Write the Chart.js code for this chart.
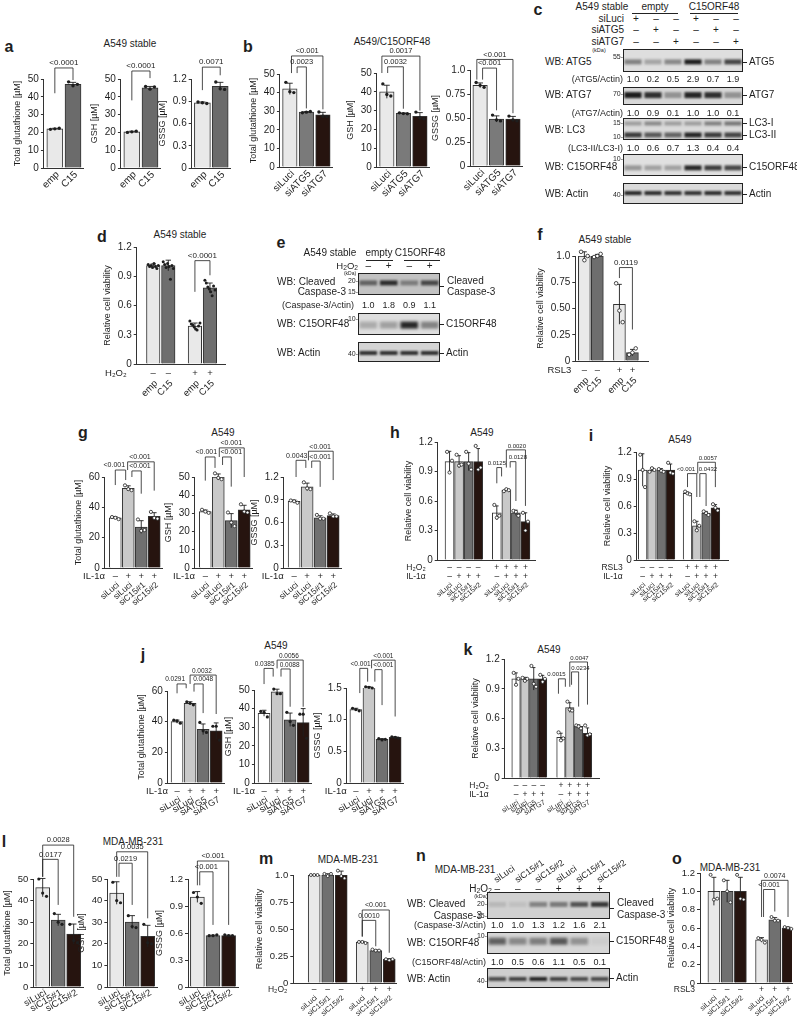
<!DOCTYPE html>
<html>
<head>
<meta charset="utf-8">
<title>C15ORF48 figure</title>
<script src="https://cdn.jsdelivr.net/npm/chart.js@4.4.1/dist/chart.umd.min.js"></script>
<style>
  html, body { margin: 0; padding: 0; }
  body { width: 797px; height: 1019px; position: relative; overflow: hidden; background: #fff;
         font-family: "Liberation Sans", Arial, Helvetica, sans-serif; color: #1e1e1e; }
  canvas { position: absolute; }
  .t { position: absolute; white-space: nowrap; line-height: 1; }
  .t sub { font-size: 0.7em; vertical-align: -0.15em; line-height: 0; }
  .ln { position: absolute; background: #222; height: 1px; }
</style>
</head>
<body>
<script>
// ---------- data ----------
// a: A549 stable (empty vector vs C15ORF48)
const aCats = ['emp', 'C15'];
const aTotal = [22.0, 47.0];
const aTotalPts = [[21.7, 22.0, 22.3], [48.4, 46.2, 47.0]];
const aGSH = [20.3, 45.0];
const aGSHPts = [[20.0, 20.3, 20.7], [45.8, 44.3, 45.6]];
const aGSSG = [0.88, 1.10];
const aGSSGPts = [[0.89, 0.88, 0.87], [1.16, 1.07, 1.06]];
const aTotalSig = [[0, 1, '<0.0001', 56.2, 42, 49.4]];
const aGSHSig = [[0, 1, '<0.0001', 54.5, 38, 50.5]];
const aGSSGSig = [[0, 1, '0.0071', 1.36, 1.05, 1.25]];

// b: A549/C15ORF48 with siRNA
const bCats = ['siLuci', 'siATG5', 'siATG7'];
const bTotal = [42.0, 29.5, 28.0];
const bTotalPts = [[45.5, 40.5, 40.0], [29.2, 29.5, 29.8], [29.6, 27.3, 27.1]];
const bGSH = [40.0, 28.5, 27.0];
const bGSHPts = [[44.2, 38.6, 37.8], [28.8, 28.4, 28.3], [29.2, 26.2, 25.6]];
const bGSSG = [0.84, 0.49, 0.49];
const bGSSGPts = [[0.87, 0.84, 0.82], [0.53, 0.48, 0.47], [0.52, 0.48, 0.47]];
const bTotalSig = [[0.1, 2, '<0.001', 59.7, 50.5, 31], [0.44, 1, '0.0023', 53.8, 50.5, 31.5]];
const bGSHSig = [[-0.3, 2, '0.0017', 59, 50, 30], [0.05, 1, '0.0032', 53.3, 50, 31]];
const bGSSGSig = [[-0.2, 2, '<0.001', 1.11, 0.9, 0.55], [0.15, 1, '<0.001', 1.02, 0.9, 0.58]];

// c: western blot
const cSiLuci = ['+', '–', '–', '+', '–', '–'];
const cSiATG5 = ['–', '+', '–', '–', '+', '–'];
const cSiATG7 = ['–', '–', '+', '–', '–', '+'];
const cATG5 = [0.45, 0.28, 0.42, 0.95, 0.45, 0.75];
const cATG5Ratio = ['1.0', '0.2', '0.5', '2.9', '0.7', '1.9'];
const cATG7 = [0.95, 0.85, 0.35, 0.9, 0.85, 0.35];
const cATG7Ratio = ['1.0', '0.9', '0.1', '1.0', '1.0', '0.1'];
const cLC3I = [0.3, 0.4, 0.3, 0.3, 0.45, 0.5];
const cLC3II = [0.8, 0.65, 0.6, 0.9, 0.8, 0.75];
const cLC3Ratio = ['1.0', '0.6', '0.7', '1.3', '0.4', '0.4'];
const cC15 = [0.35, 0.3, 0.3, 0.9, 0.8, 0.75];
const cActin = [0.9, 0.88, 0.85, 0.85, 0.88, 0.85];

// d: viability with H2O2
const dCats = ['emp', 'C15', 'emp', 'C15'];
const dH2O2 = ['–', '–', '+', '+'];
const dViab = [1.01, 1.01, 0.39, 0.78];
const dViabPts = [
  [1.02, 1.00, 1.01, 0.99, 1.03, 1.00, 0.98, 1.01],
  [1.05, 1.02, 0.99, 1.03, 1.00, 0.87, 1.01, 0.98],
  [0.44, 0.41, 0.40, 0.38, 0.36, 0.35, 0.39, 0.42],
  [0.86, 0.83, 0.79, 0.77, 0.74, 0.70, 0.80, 0.76]];
const dSig = [[2, 3, '<0.0001', 1.06, 0.74, 0.91]];

// e: western blot
const eH2O2 = ['–', '+', '–', '+'];
const eCasp = [0.55, 0.85, 0.4, 0.7];
const eCaspRatio = ['1.0', '1.8', '0.9', '1.1'];
const eC15 = [0.25, 0.3, 0.9, 0.45];
const eActin = [0.85, 0.85, 0.85, 0.85];

// f: viability with RSL3
const fCats = ['emp', 'C15', 'emp', 'C15'];
const fRSL3 = ['–', '–', '+', '+'];
const fViab = [1.00, 1.00, 0.54, 0.08];
const fViabPts = [[1.04, 0.96, 1.00], [0.99, 1.00, 1.02], [0.74, 0.48, 0.37], [0.06, 0.08, 0.12]];
const fSig = [[2, 3, '0.0119', 0.89, 0.79, 0.30]];

// g: A549 IL-1a, siC15
const gCats = ['siLuci', 'siLuci', 'siC15#1', 'siC15#2'];
const gIL1 = ['–', '+', '+', '+'];
const gTotal = [33.0, 52.5, 27.0, 34.0];
const gTotalPts = [[33.6, 33.1, 32.2], [54.5, 52.0, 51.3], [32.0, 24.5, 25.0], [37.0, 33.0, 32.5]];
const gGSH = [31.0, 50.0, 26.0, 32.0];
const gGSHPts = [[32.0, 31.0, 30.3], [52.0, 49.5, 48.8], [30.5, 25.0, 23.0], [35.0, 31.0, 30.5]];
const gGSSG = [0.88, 1.07, 0.66, 0.69];
const gGSSGPts = [[0.89, 0.88, 0.86], [1.13, 1.05, 1.04], [0.70, 0.65, 0.65], [0.72, 0.68, 0.68]];
const gTotalSig = [[0, 0.8, '<0.001', 64.6, 54.7, 58, -0.08], [0.95, 3, '<0.001', 70, 64.6, 51, 1.9], [1.28, 2, '<0.001', 64, 60, 49, 1.9]];
const gGSHSig = [[0, 0.75, '<0.001', 61, 48, 55, 0.08], [1.08, 3, '<0.001', 66, 61, 50, 2.0], [1.33, 2, '<0.001', 61, 56.6, 44.7, 2.0]];
const gGSSGSig = [[0.15, 0.9, '0.0043', 1.42, 1.2, 1.32, 0.2], [1.1, 3, '<0.001', 1.54, 1.42, 1.16, 2.0], [1.35, 2, '<0.001', 1.41, 1.32, 1.07, 2.0]];

// h: viability H2O2 + IL-1a, siC15
const hCats = ['siLuci', 'siLuci', 'siC15#1', 'siC15#2', 'siLuci', 'siLuci', 'siC15#1', 'siC15#2'];
const hH2O2 = ['–', '–', '–', '–', '+', '+', '+', '+'];
const hIL1 = ['–', '+', '+', '+', '–', '+', '+', '+'];
const hViab = [1.00, 1.00, 1.00, 1.00, 0.48, 0.71, 0.48, 0.39];
const hViabPts = [[1.10, 0.89, 1.01], [1.07, 0.96, 0.97], [1.10, 0.98, 0.92], [1.16, 0.92, 0.94],
                  [0.56, 0.43, 0.45], [0.70, 0.72, 0.71], [0.50, 0.49, 0.45], [0.48, 0.30, 0.39]];
const hSig = [[4, 4.5, '0.0125', 0.94, 0.78, 0.85, 4.0], [5, 7, '0.0020', 1.12, 0.94, 0.55, 6.1], [5.4, 6, '0.0128', 1.0, 0.94, 0.6, 6.2]];

// i: viability RSL3 + IL-1a, siC15
const iCats = ['siLuci', 'siLuci', 'siC15#1', 'siC15#2', 'siLuci', 'siLuci', 'siC15#1', 'siC15#2'];
const iRSL3 = ['–', '–', '–', '–', '+', '+', '+', '+'];
const iIL1 = ['–', '+', '+', '+', '–', '+', '+', '+'];
const iViab = [1.00, 1.00, 1.00, 1.00, 0.74, 0.38, 0.52, 0.58];
const iViabPts = [[1.17, 1.00, 0.81], [0.98, 1.02, 1.00], [1.01, 0.99, 0.98], [1.08, 0.97, 0.96],
                  [0.76, 0.74, 0.73], [0.43, 0.33, 0.38], [0.54, 0.52, 0.50], [0.62, 0.58, 0.55]];
const iSig = [[4, 5, '<0.001', 0.96, 0.81, 0.70, 3.83], [5.1, 7, '0.0057', 1.086, 0.96, 0.81, 6.2], [5.33, 6, '0.0432', 0.96, 0.70, 0.60, 6.2]];

// j: A549 IL-1a, siATG
const jCats = ['siLuci', 'siLuci', 'siATG5', 'siATG7'];
const jIL1 = ['–', '+', '+', '+'];
const jTotal = [40.0, 52.0, 35.0, 34.0];
const jTotalPts = [[41.0, 40.5, 39.0], [53.0, 52.0, 51.0], [39.5, 34.0, 33.0], [37.0, 37.0, 28.0]];
const jGSH = [37.5, 49.0, 34.0, 32.5];
const jGSHPts = [[38.5, 38.0, 35.5], [50.5, 48.0, 48.0], [38.0, 33.0, 31.0], [37.0, 37.0, 24.0]];
const jGSSG = [1.16, 1.51, 0.69, 0.72];
const jGSSGPts = [[1.18, 1.16, 1.14], [1.52, 1.51, 1.50], [0.70, 0.68, 0.69], [0.73, 0.72, 0.71]];
const jTotalSig = [[0, 0.7, '0.0291', 64.6, 58.5, 61.8, -0.15], [1, 3, '0.0032', 70.4, 64.6, 45, 1.9], [1.3, 2, '0.0048', 64.6, 59.6, 45.6, 2.0]];
const jGSHSig = [[0, 0.7, '0.0385', 61.6, 53.2, 57.2, 0.04], [1, 3, '0.0056', 66.1, 61.6, 41, 1.9], [1.3, 2, '0.0088', 61.3, 57.2, 41, 1.96]];
const jGSSGSig = [[0.3, 0.9, '<0.001', 1.81, 1.42, 1.6, 0.36], [1.2, 3, '<0.001', 1.94, 1.81, 1.05, 2.1], [1.45, 2, '<0.001', 1.79, 1.6, 1.23, 2.1]];

// k: viability H2O2 + IL-1a, siATG
const kCats = ['siLuci', 'siLuci', 'siATG5', 'siATG7', 'siLuci', 'siLuci', 'siATG5', 'siATG7'];
const kH2O2 = ['–', '–', '–', '–', '+', '+', '+', '+'];
const kIL1 = ['–', '+', '+', '+', '–', '+', '+', '+'];
const kViab = [1.00, 1.00, 1.00, 1.00, 0.41, 0.71, 0.52, 0.45];
const kViabPts = [[1.06, 0.94, 1.00], [1.01, 0.98, 1.00], [1.13, 0.95, 0.92], [1.04, 0.97, 1.00],
                  [0.46, 0.38, 0.40], [0.77, 0.69, 0.68], [0.53, 0.52, 0.50], [0.53, 0.43, 0.44]];
const kSig = [[3.72, 4.5, '0.0015', 1.0, 0.85, 0.92, 3.5], [5, 7, '0.0047', 1.17, 0.92, 0.74, 6.1], [5.2, 6, '0.0234', 1.07, 0.94, 0.72, 6.2]];

// l: MDA-MB-231 glutathione
const lCats = ['siLuci', 'siC15#1', 'siC15#2'];
const lTotal = [46.0, 31.0, 24.5];
const lTotalPts = [[50.0, 43.5, 42.0], [34.0, 30.0, 29.0], [29.0, 21.5, 20.5]];
const lGSH = [43.5, 30.0, 23.5];
const lGSHPts = [[48.5, 40.0, 39.0], [33.0, 28.0, 27.5], [29.0, 20.5, 20.0]];
const lGSSG = [1.00, 0.57, 0.57];
const lGSSGPts = [[1.05, 1.00, 0.93], [0.57, 0.57, 0.58], [0.58, 0.57, 0.57]];
const lTotalSig = [[0, 2, '0.0028', 65.7, 51, 32.5], [0, 1, '0.0177', 59.1, 51, 38]];
const lGSHSig = [[0, 2, '0.0035', 62.6, 51, 31.8], [0.15, 1, '0.0219', 57.3, 51, 38]];
const lGSSGSig = [[0, 2, '<0.001', 1.40, 1.13, 0.69], [0.15, 1, '<0.001', 1.28, 1.13, 0.69]];

// m: MDA-MB-231 viability H2O2
const mCats = ['siLuci', 'siC15#1', 'siC15#2', 'siLuci', 'siC15#1', 'siC15#2'];
const mH2O2 = ['–', '–', '–', '+', '+', '+'];
const mViab = [1.00, 1.00, 1.00, 0.38, 0.30, 0.22];
const mViabPts = [[1.00, 1.00, 1.00], [1.01, 0.99, 1.01], [1.04, 0.99, 0.97], [0.38, 0.38, 0.37], [0.31, 0.30, 0.30], [0.22, 0.21, 0.22]];
const mSig = [[3, 5, '<0.001', 0.676, 0.43, 0.28], [3, 4, '0.0010', 0.58, 0.43, 0.34]];

// n: western blot MDA-MB-231
const nCats = ['siLuci', 'siC15#1', 'siC15#2', 'siLuci', 'siC15#1', 'siC15#2'];
const nH2O2 = ['–', '–', '–', '+', '+', '+'];
const nCasp = [0.12, 0.08, 0.4, 0.45, 0.65, 0.8];
const nCaspRatio = ['1.0', '1.0', '1.3', '1.2', '1.6', '2.1'];
const nC15 = [0.6, 0.4, 0.45, 0.65, 0.35, 0.05];
const nC15Ratio = ['1.0', '0.5', '0.6', '1.1', '0.5', '0.1'];
const nActin = [0.7, 0.75, 0.9, 0.75, 0.7, 0.7];

// o: MDA-MB-231 viability RSL3
const oCats = ['siLuci', 'siC15#1', 'siC15#2', 'siLuci', 'siC15#1', 'siC15#2'];
const oRSL3 = ['–', '–', '–', '+', '+', '+'];
const oViab = [1.00, 1.00, 1.00, 0.47, 0.69, 0.60];
const oViabPts = [[1.18, 0.91, 0.92], [1.12, 1.00, 0.88], [1.18, 0.92, 0.91], [0.49, 0.47, 0.44], [0.72, 0.68, 0.68], [0.61, 0.60, 0.59]];
const oSig = [[3, 5, '0.0074', 1.12, 0.72, 0.72], [3.15, 4, '<0.001', 1.02, 0.72, 0.78]];

// ---------- styles ----------
const LIGHT = '#e9e9e9', WHITE = '#ffffff', PALE = '#c9c9c9', MID = '#707070', DARK = '#26140f';
const FONT = '"Liberation Sans", Arial, Helvetica, sans-serif';
const INK = '#1e1e1e';
const QUARTER = v => v === 0 ? '0' : (v === 1 ? '1.0' : v.toFixed(2));

Chart.defaults.font.family = FONT;
Chart.defaults.font.size = 10;
Chart.defaults.color = INK;
Chart.defaults.animation = false;
Chart.defaults.events = [];
Chart.defaults.plugins.legend.display = false;
Chart.defaults.plugins.tooltip.enabled = false;

// ---------- helpers ----------
function txt(x, y, s, size, align, extra) {
  const d = document.createElement('div');
  d.className = 't';
  d.innerHTML = s;
  d.style.left = x + 'px';
  d.style.top = y + 'px';
  d.style.fontSize = size + 'px';
  const tx = align === 'c' ? '-50%' : align === 'r' ? '-100%' : '0';
  let tf = 'translate(' + tx + ',-50%)';
  if (extra && extra.rot) {
    d.style.transformOrigin = '0 50%';
    tf = 'translate(0,-50%) rotate(' + extra.rot + 'deg)';
  }
  d.style.transform = tf;
  if (extra && extra.bold) d.style.fontWeight = 'bold';
  document.body.appendChild(d);
}

function hline(x1, x2, y) {
  const d = document.createElement('div');
  d.className = 'ln';
  d.style.left = x1 + 'px';
  d.style.width = (x2 - x1) + 'px';
  d.style.top = y + 'px';
  document.body.appendChild(d);
}

function decor(p, xs) {
  const at = i => { const k = Math.max(0, Math.min(xs.length - 1, Math.round(i))); return xs[k] + (i - k); };
  return {
    id: 'decor',
    afterDraw(chart) {
      const ctx = chart.ctx, X = chart.scales.x, Y = chart.scales.y;
      ctx.save();
      // error bars and individual points
      p.pts.forEach((arr, i) => {
        const cx = X.getPixelForValue(xs[i]);
        const n = arr.length;
        const mean = arr.reduce((a, b) => a + b, 0) / n;
        const sd = Math.sqrt(arr.reduce((a, b) => a + (b - mean) * (b - mean), 0) / (n - 1));
        const v = p.vals[i];
        const yt = Y.getPixelForValue(v + sd), yb = Y.getPixelForValue(Math.max(0, v - sd));
        const cap = p.bw * 0.2;
        ctx.strokeStyle = INK; ctx.lineWidth = 0.9;
        ctx.beginPath();
        ctx.moveTo(cx, yb); ctx.lineTo(cx, yt);
        ctx.moveTo(cx - cap, yt); ctx.lineTo(cx + cap, yt);
        ctx.stroke();
        arr.forEach((pv, k) => {
          const off = n > 1 ? (k / (n - 1) - 0.5) * p.bw * p.spread : 0;
          ctx.beginPath();
          ctx.arc(cx + off, Y.getPixelForValue(pv), p.dotR, 0, Math.PI * 2);
          if (p.dot === 'open') { ctx.fillStyle = '#fff'; ctx.fill(); ctx.lineWidth = 0.8; ctx.stroke(); }
          else { ctx.fillStyle = INK; ctx.fill(); }
        });
      });
      // significance brackets
      ctx.strokeStyle = INK; ctx.fillStyle = INK; ctx.lineWidth = 0.8;
      ctx.font = p.sig + 'px ' + FONT;
      ctx.textAlign = 'center'; ctx.textBaseline = 'bottom';
      p.brackets.forEach(b => {
        const x1 = X.getPixelForValue(at(b[0])), x2 = X.getPixelForValue(at(b[1]));
        const yt = Y.getPixelForValue(b[3]);
        ctx.beginPath();
        ctx.moveTo(x1, Y.getPixelForValue(b[4])); ctx.lineTo(x1, yt);
        ctx.lineTo(x2, yt); ctx.lineTo(x2, Y.getPixelForValue(b[5]));
        ctx.stroke();
        const lx = b[6] !== undefined ? X.getPixelForValue(at(b[6])) : (x1 + x2) / 2;
        ctx.fillText(b[2], lx, yt - 1);
      });
      // treatment rows and rotated names under the axis
      const y0 = Y.getPixelForValue(0), ax = chart.chartArea.left;
      ctx.textBaseline = 'middle';
      p.rows.forEach((r, ri) => {
        const yy = y0 + p.rowDy + ri * p.rowGap;
        ctx.font = p.rowSize + 'px ' + FONT;
        ctx.textAlign = 'right';
        ctx.fillText(r.label, ax + p.rowLabelDx, yy);
        ctx.textAlign = 'center';
        r.marks.forEach((mk, i) => ctx.fillText(mk, X.getPixelForValue(xs[i]), yy));
      });
      ctx.font = p.nameSize + 'px ' + FONT;
      ctx.textAlign = 'right';
      p.names.forEach((nm, i) => {
        ctx.save();
        ctx.translate(X.getPixelForValue(xs[i]) + p.nameDx, y0 + p.nameDy);
        ctx.rotate(-p.nameRot * Math.PI / 180);
        ctx.fillText(nm, 0, 0);
        ctx.restore();
      });
      ctx.restore();
    }
  };
}

function barPanel(p) {
  p = Object.assign({gap: 0, rows: [], rowDy: 8, rowGap: 8.5, rowSize: 9, rowLabelDx: -4,
    nameDx: 2, nameDy: 5, nameRot: 45, nameSize: 9, sig: 7, dot: 'fill', dotR: 1.6,
    tick: 10, tsize: 9, spread: 0.55, dec: 0, brackets: []}, p);
  const xs = [];
  let pos = 0;
  p.groups.forEach(n => { for (let k = 0; k < n; k++) xs.push(pos++); pos += p.gap; });
  const xmin = -p.lead, xmax = xs[xs.length - 1] + p.trail;
  const plotW = (xmax - xmin) * p.step, plotH = p.zeroY - p.topY;
  const fmt = p.fmt || (v => v === 0 ? '0' : v.toFixed(p.dec));
  const make = () => ({
    type: 'bar',
    data: { datasets: [{
      data: p.vals.map((v, i) => ({ x: xs[i], y: v })),
      backgroundColor: p.colors, borderColor: '#333', borderWidth: 1, barThickness: p.bw
    }] },
    options: {
      responsive: false, maintainAspectRatio: false,
      layout: { padding: { top: 55, bottom: 60, left: 14, right: 6 } },
      scales: {
        x: { type: 'linear', min: xmin, max: xmax, offset: false,
             grid: { display: false, drawTicks: false }, ticks: { display: false },
             border: { display: true, color: '#333', width: 1 } },
        y: { type: 'linear', min: 0, max: p.ymax,
             ticks: { stepSize: p.ystep, font: { size: p.tick }, padding: 2, callback: fmt },
             grid: { display: true, drawOnChartArea: false, drawTicks: true, tickLength: 3, color: '#333' },
             border: { display: true, color: '#333', width: 1 },
             title: { display: true, text: p.ytitle, font: { size: p.tsize }, padding: { top: 0, bottom: 3 } } }
      }
    },
    plugins: [decor(p, xs)]
  });
  const cv = document.createElement('canvas');
  document.body.appendChild(cv);
  cv.width = Math.round(70 + plotW);
  cv.height = Math.round(115 + plotH);
  let ch = new Chart(cv, make());
  const a = ch.chartArea;
  const W = Math.round(ch.width + plotW - (a.right - a.left));
  const H = Math.round(ch.height + plotH - (a.bottom - a.top));
  ch.destroy();
  cv.width = W; cv.height = H;
  ch = new Chart(cv, make());
  const b = ch.chartArea;
  cv.style.left = (p.axisX - b.left) + 'px';
  cv.style.top = (p.topY - b.top) + 'px';
}

function blot(s) {
  const cv = document.createElement('canvas');
  cv.width = s.w; cv.height = s.h;
  cv.style.left = s.x + 'px'; cv.style.top = s.y + 'px';
  document.body.appendChild(cv);
  const lanes = s.bands[0].vals.map((_, i) => 'lane ' + (i + 1));
  new Chart(cv, {
    type: 'bar',
    data: { labels: lanes, datasets: [] },
    options: {
      responsive: false, maintainAspectRatio: false,
      layout: { padding: 0 },
      scales: {
        x: { type: 'category', display: false, offset: true },
        y: { type: 'linear', display: false, min: 0, max: 1, reverse: true }
      }
    },
    plugins: [{
      id: 'bands',
      beforeDraw(chart) {
        const ctx = chart.ctx, A = chart.chartArea, X = chart.scales.x, Y = chart.scales.y;
        const lw = A.width / lanes.length;
        ctx.save();
        ctx.fillStyle = s.bg;
        ctx.fillRect(A.left, A.top, A.width, A.height);
        s.bands.forEach(b => {
          b.vals.forEach((v, i) => {
            const cx = X.getPixelForValue(i), cy = Y.getPixelForValue(b.pos);
            ctx.filter = 'blur(' + (b.blur || 1.2) + 'px)';
            ctx.fillStyle = 'rgba(18,18,18,' + v + ')';
            ctx.fillRect(cx - lw * 0.43, cy - b.th / 2, lw * 0.86, b.th);
          });
        });
        ctx.filter = 'none';
        ctx.strokeStyle = '#222'; ctx.lineWidth = 1;
        ctx.strokeRect(A.left + 0.5, A.top + 0.5, A.width - 1, A.height - 1);
        ctx.restore();
      }
    }]
  });
}

function laneX(x, w, n, i) { return x + (i + 0.5) * w / n; }
function laneRow(x, w, vals, y, size) { vals.forEach((v, i) => txt(laneX(x, w, vals.length, i), y, v, size, 'c')); }
function rlab(x, y, s) { hline(x, x + 4, y); txt(x + 6, y, s, 10, 'l'); }

// ---------- panel letters and titles ----------
[['a', 9, 47], ['b', 248, 47], ['c', 538, 10], ['d', 102, 237], ['e', 281, 243], ['f', 540, 235],
 ['g', 83, 433], ['h', 395, 433], ['i', 591, 436], ['j', 143, 655], ['k', 468, 650], ['l', 4, 842],
 ['m', 266, 859], ['n', 421, 856], ['o', 677, 859]].forEach(L => txt(L[1], L[2], L[0], 16, 'c', {bold: true}));

[['A549 stable', 130, 44], ['A549/C15ORF48', 392, 42], ['A549 stable', 180, 235], ['A549 stable', 605, 240],
 ['A549', 223, 433], ['A549', 482, 433], ['A549', 680, 440], ['A549', 276, 646], ['A549', 549, 650],
 ['MDA-MB-231', 133, 842], ['MDA-MB-231', 348, 860], ['MDA-MB-231', 730, 868]].forEach(T => txt(T[1], T[2], T[0], 10, 'c'));

// ---------- a ----------
const aBase = {topY: 79, zeroY: 168, groups: [2], step: 18, bw: 16, lead: 0.6, trail: 0.55, colors: [LIGHT, '#6b6b6b'],
  names: aCats, sig: 8, nameDy: 5, nameDx: 3, nameRot: 45, nameSize: 10, dotR: 1.7};
barPanel(Object.assign({}, aBase, {axisX: 44, vals: aTotal, pts: aTotalPts, ymax: 50, ystep: 10, ytitle: 'Total glutathione [µM]', brackets: aTotalSig}));
barPanel(Object.assign({}, aBase, {axisX: 121, vals: aGSH, pts: aGSHPts, ymax: 50, ystep: 10, ytitle: 'GSH [µM]', brackets: aGSHSig}));
barPanel(Object.assign({}, aBase, {axisX: 192, vals: aGSSG, pts: aGSSGPts, ymax: 1.2, ystep: 0.3, dec: 1, ytitle: 'GSSG [µM]', brackets: aGSSGSig}));

// ---------- b ----------
const bBase = {zeroY: 167, groups: [3], step: 16.5, bw: 14.5, lead: 0.6, trail: 0.55, colors: [LIGHT, '#7a7a7a', DARK],
  names: bCats, sig: 7.5, nameDy: 5, nameDx: 3, nameRot: 45, nameSize: 10, dotR: 1.7};
barPanel(Object.assign({}, bBase, {axisX: 280, topY: 74, vals: bTotal, pts: bTotalPts, ymax: 50, ystep: 10, ytitle: 'Total glutathione [µM]', brackets: bTotalSig}));
barPanel(Object.assign({}, bBase, {axisX: 377, topY: 73, vals: bGSH, pts: bGSHPts, ymax: 50, ystep: 10, ytitle: 'GSH [µM]', brackets: bGSHSig}));
barPanel(Object.assign({}, bBase, {axisX: 470, topY: 70, zeroY: 166, vals: bGSSG, pts: bGSSGPts, ymax: 1.0, ystep: 0.25, fmt: QUARTER, ytitle: 'GSSG [µM]', brackets: bGSSGSig}));

// ---------- c (blot) ----------
{
  const X0 = 623, W = 120;
  txt(602, 7, 'A549 stable', 10, 'c'); txt(655, 7, 'empty', 10, 'c'); txt(714, 7, 'C15ORF48', 10, 'c');
  hline(632, 678, 13); hline(690, 738, 13);
  txt(624, 19, 'siLuci', 10, 'r'); txt(624, 30, 'siATG5', 10, 'r'); txt(624, 42, 'siATG7', 10, 'r');
  laneRow(X0 + 3, W, cSiLuci, 19, 10); laneRow(X0 + 3, W, cSiATG5, 30, 10); laneRow(X0 + 3, W, cSiATG7, 42, 10);
  blot({x: X0, y: 49, w: W, h: 23, bg: '#dedede', bands: [{pos: 0.56, th: 5, vals: cATG5}]});
  blot({x: X0, y: 87, w: W, h: 18, bg: '#d8d8d8', bands: [{pos: 0.45, th: 6, vals: cATG7}]});
  blot({x: X0, y: 118, w: W, h: 22, bg: '#dadada', bands: [{pos: 0.25, th: 4, vals: cLC3I}, {pos: 0.77, th: 5, vals: cLC3II}]});
  blot({x: X0, y: 154, w: W, h: 22, bg: '#e0e0e0', bands: [{pos: 0.63, th: 5, vals: cC15}]});
  blot({x: X0, y: 183, w: W, h: 21, bg: '#dadada', bands: [{pos: 0.48, th: 4, vals: cActin}]});
  txt(545, 62, 'WB: ATG5', 10, 'l'); txt(599, 51, '(kDa)', 5.5, 'c'); txt(623, 56, '55-', 7, 'r'); rlab(743, 62, 'ATG5');
  txt(623, 79, '(ATG5/Actin)', 9, 'r'); laneRow(X0, W, cATG5Ratio, 79, 9);
  txt(545, 95, 'WB: ATG7', 10, 'l'); txt(623, 93, '70-', 7, 'r'); rlab(743, 95, 'ATG7');
  txt(623, 113, '(ATG7/Actin)', 9, 'r'); laneRow(X0, W, cATG7Ratio, 113, 9);
  txt(545, 130, 'WB: LC3', 10, 'l'); txt(623, 122, '15-', 7, 'r'); txt(623, 136, '10-', 7, 'r');
  rlab(743, 123, 'LC3-I'); rlab(743, 135, 'LC3-II');
  txt(623, 148, '(LC3-II/LC3-I)', 9, 'r'); laneRow(X0, W, cLC3Ratio, 148, 9);
  txt(545, 167, 'WB: C15ORF48', 10, 'l'); txt(623, 158, '10-', 7, 'r'); rlab(743, 167, 'C15ORF48');
  txt(545, 194, 'WB: Actin', 10, 'l'); txt(623, 194, '40-', 7, 'r'); rlab(743, 194, 'Actin');
}

// ---------- d ----------
barPanel({axisX: 137, topY: 247, zeroY: 364, groups: [2, 2], gap: 0.77, step: 15, bw: 13.5, lead: 1.1, trail: 1.0,
  vals: dViab, pts: dViabPts, colors: [LIGHT, '#6e6e6e', LIGHT, '#6e6e6e'], ymax: 1.2, ystep: 0.3, dec: 1,
  ytitle: 'Relative cell viability', brackets: dSig, sig: 8, spread: 0.75, dotR: 1.5,
  rows: [{label: 'H₂O₂', marks: dH2O2}], rowDy: 9, rowLabelDx: -10, rowSize: 9.5,
  names: dCats, nameDy: 18, nameDx: 3, nameRot: 45, nameSize: 9.5});

// ---------- e (blot) ----------
{
  const X0 = 358, W = 82;
  txt(330, 253, 'A549 stable', 10, 'c'); txt(379, 253, 'empty', 10, 'c'); txt(420, 253, 'C15ORF48', 10, 'c');
  hline(366, 393, 260); hline(404, 440, 260);
  txt(358, 266, 'H<sub>2</sub>O<sub>2</sub>', 9.5, 'r'); laneRow(X0, W, eH2O2, 266, 10);
  blot({x: X0, y: 273, w: W, h: 22, bg: '#c2c2c2', bands: [{pos: 0.45, th: 5, vals: eCasp}]});
  blot({x: X0, y: 313, w: W, h: 22, bg: '#dedede', bands: [{pos: 0.55, th: 7, vals: eC15, blur: 1.8}]});
  blot({x: X0, y: 342, w: W, h: 20, bg: '#d4d4d4', bands: [{pos: 0.55, th: 4, vals: eActin}]});
  txt(350, 273, '(kDa)', 5, 'c'); txt(358, 280, '20-', 7, 'r'); txt(358, 291, '15-', 7, 'r');
  txt(277, 282, 'WB: Cleaved', 10, 'l'); txt(346, 292, 'Caspase-3', 10, 'r');
  hline(440, 444, 286); txt(447, 281, 'Cleaved', 10, 'l'); txt(447, 292, 'Caspase-3', 10, 'l');
  txt(354, 305, '(Caspase-3/Actin)', 9, 'r'); laneRow(X0, W, eCaspRatio, 305, 9);
  txt(277, 324, 'WB: C15ORF48', 10, 'l'); txt(358, 318, '10-', 7, 'r'); rlab(440, 324, 'C15ORF48');
  txt(277, 353, 'WB: Actin', 10, 'l'); txt(358, 353, '40-', 7, 'r'); rlab(440, 353, 'Actin');
}

// ---------- f ----------
barPanel({axisX: 575, topY: 256, zeroY: 361, groups: [2, 2], gap: 0.7, step: 13, bw: 12, lead: 0.7, trail: 1.2,
  vals: fViab, pts: fViabPts, colors: [LIGHT, '#6e6e6e', LIGHT, '#6e6e6e'], ymax: 1.0, ystep: 0.25, fmt: QUARTER,
  ytitle: 'Relative cell viability', brackets: fSig, sig: 8, dot: 'open', dotR: 1.8,
  rows: [{label: 'RSL3', marks: fRSL3}], rowDy: 9, rowLabelDx: -4, rowSize: 9.5,
  names: fCats, nameDy: 18, nameDx: 3, nameRot: 45, nameSize: 9.5});

// ---------- g ----------
const gBase = {topY: 477, zeroY: 568, groups: [4], step: 13, bw: 12, lead: 0.8, trail: 0.6, colors: [WHITE, PALE, MID, DARK],
  sig: 7, rows: [{label: 'IL-1α', marks: gIL1}], rowDy: 8, rowLabelDx: 0, rowSize: 9.5,
  names: gCats, nameDy: 16, nameDx: 3, nameRot: 40, nameSize: 8.5, dot: 'open', dotR: 1.6};
barPanel(Object.assign({}, gBase, {axisX: 105, vals: gTotal, pts: gTotalPts, ymax: 60, ystep: 20, ytitle: 'Total glutathione [µM]', brackets: gTotalSig}));
barPanel(Object.assign({}, gBase, {axisX: 195, vals: gGSH, pts: gGSHPts, ymax: 50, ystep: 10, ytitle: 'GSH [µM]', brackets: gGSHSig}));
barPanel(Object.assign({}, gBase, {axisX: 284, vals: gGSSG, pts: gGSSGPts, ymax: 1.2, ystep: 0.3, dec: 1, ytitle: 'GSSG [µM]', brackets: gGSSGSig}));

// ---------- h, i ----------
const vBase = {groups: [4, 4], colors: [WHITE, PALE, MID, DARK, WHITE, PALE, MID, DARK], ymax: 1.2, ystep: 0.3, dec: 1,
  ytitle: 'Relative cell viability', sig: 6, dot: 'open', dotR: 1.6, rowDy: 8, rowGap: 8.5, rowSize: 8.5,
  nameDy: 24, nameDx: 2, nameRot: 40, nameSize: 7};
barPanel(Object.assign({}, vBase, {axisX: 438, topY: 442, zeroY: 560, gap: 0.95, step: 9.5, bw: 9, lead: 1.24, trail: 1.0,
  vals: hViab, pts: hViabPts, brackets: hSig, names: hCats, rowLabelDx: -12,
  rows: [{label: 'H₂O₂', marks: hH2O2}, {label: 'IL-1α', marks: hIL1}]}));
barPanel(Object.assign({}, vBase, {axisX: 637, topY: 452, zeroY: 560, gap: 0.83, step: 9.25, bw: 8.7, lead: 0.64, trail: 1.36,
  vals: iViab, pts: iViabPts, brackets: iSig, names: iCats, rowLabelDx: -14,
  rows: [{label: 'RSL3', marks: iRSL3}, {label: 'IL-1α', marks: iIL1}]}));

// ---------- j ----------
const jBase = {zeroY: 783, groups: [4], step: 13, bw: 12, lead: 0.7, trail: 0.6, colors: [WHITE, PALE, MID, DARK],
  sig: 6.5, rows: [{label: 'IL-1α', marks: jIL1}], rowDy: 8, rowLabelDx: 0, rowSize: 9.5,
  names: jCats, nameDy: 16, nameDx: 3, nameRot: 30, nameSize: 9, dotR: 1.6};
barPanel(Object.assign({}, jBase, {axisX: 168, topY: 691, vals: jTotal, pts: jTotalPts, ymax: 60, ystep: 20, ytitle: 'Total glutathione [µM]', brackets: jTotalSig}));
barPanel(Object.assign({}, jBase, {axisX: 255, topY: 690, vals: jGSH, pts: jGSHPts, ymax: 50, ystep: 10, ytitle: 'GSH [µM]', brackets: jGSHSig}));
barPanel(Object.assign({}, jBase, {axisX: 347, topY: 688, vals: jGSSG, pts: jGSSGPts, ymax: 1.5, ystep: 0.5, dec: 1, ytitle: 'GSSG [µM]', brackets: jGSSGSig}));

// ---------- k ----------
barPanel(Object.assign({}, vBase, {axisX: 505, topY: 659, zeroY: 778, gap: 1.07, step: 8.9, bw: 8.5, lead: 1.28, trail: 1.3,
  vals: kViab, pts: kViabPts, brackets: kSig, names: kCats, rowLabelDx: -16, nameRot: 30,
  rows: [{label: 'H₂O₂', marks: kH2O2}, {label: 'IL-1α', marks: kIL1}]}));

// ---------- l ----------
const lBase = {topY: 879, zeroY: 987, groups: [3], step: 15.5, bw: 14, lead: 0.6, trail: 0.6, colors: [LIGHT, MID, DARK],
  names: lCats, sig: 7.5, nameDy: 5, nameDx: 3, nameRot: 30, nameSize: 9.5, tick: 9.5, dotR: 1.6};
barPanel(Object.assign({}, lBase, {axisX: 33, vals: lTotal, pts: lTotalPts, ymax: 50, ystep: 10, ytitle: 'Total glutathione [µM]', brackets: lTotalSig}));
barPanel(Object.assign({}, lBase, {axisX: 107, vals: lGSH, pts: lGSHPts, ymax: 50, ystep: 10, ytitle: 'GSH [µM]', brackets: lGSHSig}));
barPanel(Object.assign({}, lBase, {axisX: 188, vals: lGSSG, pts: lGSSGPts, ymax: 1.2, ystep: 0.3, dec: 1, ytitle: 'GSSG [µM]', brackets: lGSSGSig}));

// ---------- m, o ----------
const mBase = {groups: [3, 3], step: 13.5, bw: 12, colors: [LIGHT, MID, DARK, LIGHT, MID, DARK],
  ytitle: 'Relative cell viability', sig: 7, dot: 'open', dotR: 1.5, tick: 9.5, rowDy: 7, rowSize: 8.5,
  nameDy: 14, nameDx: 2, nameRot: 40, nameSize: 7.5};
barPanel(Object.assign({}, mBase, {axisX: 293, topY: 875, zeroY: 983, gap: 0.56, lead: 1.55, trail: 0.5,
  vals: mViab, pts: mViabPts, brackets: mSig, names: mCats, ymax: 1.0, ystep: 0.25, fmt: QUARTER,
  rows: [{label: 'H₂O₂', marks: mH2O2}], rowLabelDx: -6}));
barPanel(Object.assign({}, mBase, {axisX: 700, topY: 873, zeroY: 983, gap: 0.6, step: 13.3, lead: 1.05, trail: 0.3,
  vals: oViab, pts: oViabPts, brackets: oSig, names: oCats, ymax: 1.2, ystep: 0.2, dec: 1,
  rows: [{label: 'RSL3', marks: oRSL3}], rowLabelDx: -5}));

// ---------- n (blot) ----------
{
  const X0 = 487, W = 123;
  txt(465, 870, 'MDA-MB-231', 10, 'c');
  nCats.forEach((c, i) => txt(laneX(X0, W, 6, i) - 2, 881, c, 9, 'l', {rot: -35}));
  txt(492, 889, 'H<sub>2</sub>O<sub>2</sub>', 10, 'r'); laneRow(X0, W, nH2O2, 889, 10);
  blot({x: X0, y: 892, w: W, h: 27, bg: '#d0d0d0', bands: [{pos: 0.46, th: 5, vals: nCasp}]});
  blot({x: X0, y: 932, w: W, h: 22, bg: '#d6d6d6', bands: [{pos: 0.42, th: 7, vals: nC15, blur: 1.8}]});
  blot({x: X0, y: 968, w: W, h: 20, bg: '#cfcfcf', bands: [{pos: 0.55, th: 4, vals: nActin}]});
  txt(481, 897, '(kDa)', 5.5, 'c'); txt(487, 903, '20-', 7, 'r'); txt(487, 915, '15-', 7, 'r');
  txt(407, 904, 'WB: Cleaved', 10, 'l'); txt(482, 916, 'Caspase-3', 10, 'r');
  hline(610, 614, 908); txt(617, 903, 'Cleaved', 10, 'l'); txt(617, 915, 'Caspase-3', 10, 'l');
  txt(486, 925, '(Caspase-3/Actin)', 9, 'r'); laneRow(X0, W, nCaspRatio, 925, 9);
  txt(407, 943, 'WB: C15ORF48', 10, 'l'); txt(487, 935, '10-', 7, 'r'); rlab(610, 941, 'C15ORF48');
  txt(486, 962, '(C15ORF48/Actin)', 9, 'r'); laneRow(X0, W, nC15Ratio, 962, 9);
  txt(407, 979, 'WB: Actin', 10, 'l'); txt(487, 980, '40-', 7, 'r'); rlab(610, 978, 'Actin');
}
</script>
</body>
</html>
